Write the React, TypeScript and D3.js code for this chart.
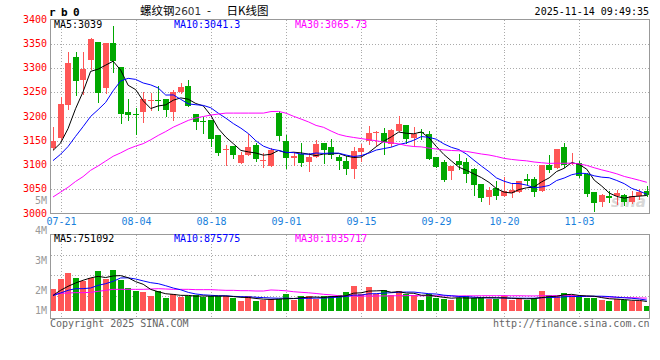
import React from "react";
import * as d3 from "d3";

const dates = [
  "07-18","07-21","07-22","07-23","07-24","07-25","07-28","07-29","07-30","07-31","08-01",
  "08-04","08-05","08-06","08-07","08-08","08-11","08-12","08-13","08-14","08-15",
  "08-18","08-19","08-20","08-21","08-22","08-25","08-26","08-27","08-28","08-29",
  "09-01","09-02","09-03","09-04","09-05","09-08","09-09","09-10","09-11","09-12",
  "09-15","09-16","09-17","09-18","09-19","09-22","09-23","09-24","09-25","09-26",
  "09-29","09-30","10-09","10-10","10-13","10-14","10-15","10-16","10-17",
  "10-20","10-21","10-22","10-23","10-24","10-27","10-28","10-29","10-30","10-31",
  "11-03","11-04","11-05","11-06","11-07","11-10","11-11","11-12","11-13","11-14",
];

const opens = [
  3135,3156,3223,3322,3276,3317,3354,3258,3352,3303,3210,
  3206,3209,3233,3235,3236,3210,3250,3262,3205,3191,
  3192,3161,3130,3140,3104,3120,3142,3108,3098,3207,
  3150,3115,3123,3106,3116,3146,3138,3116,3109,3091,
  3126,3149,3167,3166,3144,3171,3183,3156,3168,3164,
  3116,3106,3087,3109,3107,3091,3060,3034,3052,
  3037,3043,3045,3071,3071,3047,3099,3093,3138,3102,
  3104,3082,3044,3023,3036,3036,3039,3023,3036,3047,
];
const highs = [
  3178,3241,3334,3332,3332,3361,3354,3352,3387,3303,3237,
  3218,3250,3248,3263,3236,3254,3270,3276,3205,3200,
  3192,3161,3142,3140,3126,3163,3146,3124,3135,3211,
  3161,3126,3146,3124,3152,3146,3153,3121,3118,3137,
  3144,3181,3171,3177,3175,3202,3183,3179,3175,3171,
  3116,3111,3098,3123,3114,3093,3061,3054,3068,
  3076,3061,3068,3082,3076,3099,3120,3134,3145,3125,
  3108,3084,3044,3041,3046,3049,3041,3047,3051,3056,
];
const lows = [
  3133,3154,3216,3245,3247,3298,3229,3248,3291,3186,3193,
  3164,3188,3214,3214,3202,3192,3248,3221,3175,3166,
  3140,3120,3101,3114,3104,3120,3109,3095,3098,3152,
  3093,3099,3098,3087,3116,3104,3115,3091,3082,3074,
  3108,3144,3142,3122,3140,3170,3145,3140,3154,3113,
  3095,3066,3071,3091,3064,3038,3025,3019,3030,
  3037,3034,3045,3060,3036,3046,3085,3093,3095,3102,
  3075,3036,3006,3016,3023,3020,3018,3021,3030,3037,
];
const closes = [
  3149,3225,3310,3274,3297,3359,3248,3351,3315,3205,3203,
  3203,3236,3235,3232,3214,3251,3260,3221,3188,3189,
  3153,3124,3133,3120,3120,3138,3112,3111,3130,3159,
  3114,3118,3104,3117,3144,3130,3120,3108,3091,3128,
  3135,3166,3169,3147,3173,3185,3153,3164,3166,3113,
  3095,3070,3098,3101,3081,3058,3032,3049,3036,
  3046,3048,3068,3067,3044,3099,3089,3134,3100,3104,
  3078,3041,3021,3039,3032,3043,3023,3037,3044,3039,
];
const volumes = [
  1742000,2547000,3056000,2627000,2386000,2681000,3190000,2574000,3271000,2520000,1823000,
  1609000,1528000,1206000,1582000,1019000,1341000,1153000,1180000,1260000,1126000,
  1233000,1206000,1180000,1072000,804000,1180000,804000,912000,938000,938000,
  1341000,885000,1206000,1206000,965000,1206000,1206000,1260000,1528000,1984000,
  1341000,1904000,1341000,1662000,1287000,1582000,1341000,1260000,858000,1341000,
  1072000,965000,912000,1072000,1180000,1072000,1072000,965000,992000,
  1180000,912000,965000,858000,1072000,1582000,1260000,1180000,1421000,1260000,
  1126000,1072000,1072000,858000,804000,992000,858000,804000,804000,375000,
];

// moving-average values before enough history is on screen
const priceMa5Head = [3130,3145,3175,3216];
const priceMa10Head = [3109,3122,3138,3159,3179,3200,3214,3229,3253];
const priceMa30Head = [
  3034,3044,3054,3066,3076,3089,3098,3108,3118,3125,
  3133,3139,3144,3152,3161,3169,3178,3185,3192,3197,
  3200,3203,3205,3207,3207,3207,3207,3207,3207,
];
const volMa5Head = [1260000,1662000,1984000,2252000];
const volMa10Head = [1233000,1448000,1662000,1796000,1796000,1850000,2064000,2198000,2386000];
const volMa30Head = [
  1341000,1421000,1448000,1475000,1475000,1501000,1582000,1662000,1743000,1743000,
  1743000,1743000,1743000,1769000,1796000,1769000,1743000,1743000,1743000,1716000,
  1716000,1716000,1689000,1662000,1662000,1635000,1635000,1609000,1609000,
];

const priceMaText = ["MA5:3039", "MA10:3041.3", "MA30:3065.73"];
const volMaText = ["MA5:751092", "MA10:875775", "MA30:1035717"];
const priceTicks = [3000, 3050, 3100, 3150, 3200, 3250, 3300, 3350, 3400];
const volTickValues = [1, 2, 3, 4, 5];
const volTickLabels = ["1M", "2M", "3M", "4M", "5M"];
const dateTicks = ["07-21", "08-04", "08-18", "09-01", "09-15", "09-29", "10-20", "11-03"];

const RED = "#ff5656";
const GREEN = "#00a800";
const MA_COLORS = ["#000000", "#0000ff", "#ff00ff"];
const MONO = "'DejaVu Sans Mono', monospace";

function movingAverage(values: number[], n: number, head: number[]) {
  return values.map((_, i) =>
    i < n - 1 ? head[i] : (d3.mean(values.slice(i - n + 1, i + 1)) as number)
  );
}

export default function App() {
  const W = 660, H = 360;
  const L = 50.5, R = 649.5, T1 = 19.5, B1 = 213.5, T2 = 234.5, B2 = 318.5;

  const x = d3.scaleBand<string>().domain(dates).range([49.24, 650.6]).paddingInner(0.2).paddingOuter(0.1);
  const bw = Math.round(x.bandwidth());
  const cx = (d: string) => (x(d) as number) + x.bandwidth() / 2;
  const y = d3.scaleLinear().domain([3000, 3400]).range([B1, T1]);
  const vBase = 311;
  const vy = d3.scaleLinear().domain([0, 1e6]).range([vBase, vBase - 12.43]);
  const volLabelY = d3.scaleLinear().domain([2, 5]).range([294, 204]);

  const pMa = [
    movingAverage(closes, 5, priceMa5Head),
    movingAverage(closes, 10, priceMa10Head),
    movingAverage(closes, 30, priceMa30Head),
  ];
  const vMa = [
    movingAverage(volumes, 5, volMa5Head),
    movingAverage(volumes, 10, volMa10Head),
    movingAverage(volumes, 30, volMa30Head),
  ];
  const pLine = d3.line<number>().x((_, i) => cx(dates[i])).y((v) => y(v));
  const vLine = d3.line<number>().x((_, i) => cx(dates[i])).y((v) => vy(v));

  const gridX = dateTicks.map((d) => Math.round(cx(d)) + 0.5);
  const textX = [54, 174, 295];

  return (
    <svg width={W} height={H} style={{ position: "absolute", left: 0, top: 0, background: "#fff" }}
      fontFamily={MONO} fontSize={10}>
      <defs>
        <clipPath id="clipP"><rect x={L} y={T1} width={R - L} height={B1 - T1} /></clipPath>
        <clipPath id="clipV"><rect x={L} y={T2} width={R - L} height={B2 - T2} /></clipPath>
      </defs>
      <rect x={0} y={0} width={W} height={H} fill="#fff" />

      {/* price grid */}
      <g stroke="#aaa" strokeDasharray="1,2" shapeRendering="crispEdges">
        {priceTicks.slice(1, -1).map((t) => (
          <line key={t} x1={L} x2={R} y1={Math.round(y(t)) + 0.5} y2={Math.round(y(t)) + 0.5} />
        ))}
        {gridX.map((gx, i) => (
          <line key={"gx" + i} x1={gx} x2={gx} y1={T1} y2={B1} />
        ))}
        {[1, 2, 3].map((k) => (
          <line key={"vg" + k} x1={L} x2={R} y1={Math.round(T2 + k * 20.4) + 0.5} y2={Math.round(T2 + k * 20.4) + 0.5} />
        ))}
        {gridX.map((gx, i) => (
          <line key={"vx" + i} x1={gx} x2={gx} y1={T2} y2={B2} />
        ))}
      </g>

      {/* watermark */}
      <text x={611} y={207} fontFamily="'DejaVu Sans', sans-serif" fontStyle="italic" fontWeight="bold"
        fontSize={15} fill="#c8c8c8" opacity={0.7}>sina</text>

      {/* candles */}
      <g clipPath="url(#clipP)" shapeRendering="crispEdges">
        {dates.map((d, i) => {
          const o = opens[i], c = closes[i];
          const up = c >= o;
          const col = up ? RED : GREEN;
          const rx = Math.round(x(d) as number);
          const top = Math.round(y(Math.max(o, c)));
          const bot = Math.round(y(Math.min(o, c)));
          const hi = Math.round(y(highs[i]));
          const lo = Math.round(y(lows[i]));
          return (
            <g key={d} fill={col}>
              <rect x={rx + Math.floor(bw / 2)} y={hi} width={1} height={Math.max(1, lo - hi + 1)} />
              <rect x={rx} y={top} width={bw} height={Math.max(1, bot - top)} />
            </g>
          );
        })}
      </g>

      {/* price MAs */}
      <g clipPath="url(#clipP)" fill="none" strokeWidth={1}>
        {pMa.map((arr, k) => (
          <path key={k} d={pLine(arr) as string} stroke={MA_COLORS[k]} />
        ))}
      </g>

      {/* volume bars */}
      <g clipPath="url(#clipV)" shapeRendering="crispEdges">
        {dates.map((d, i) => {
          const up = closes[i] >= opens[i];
          const rx = Math.round(x(d) as number);
          const top = Math.round(vy(volumes[i]));
          return <rect key={d} x={rx} y={top} width={bw} height={vBase - top} fill={up ? RED : GREEN} />;
        })}
      </g>
      <g clipPath="url(#clipV)" fill="none" strokeWidth={1}>
        {[2, 1, 0].map((k) => (
          <path key={k} d={vLine(vMa[k]) as string} stroke={MA_COLORS[k]} />
        ))}
      </g>

      {/* frames */}
      <g fill="none" stroke="#999" shapeRendering="crispEdges">
        <rect x={L} y={T1} width={R - L} height={B1 - T1} />
        <rect x={L} y={T2} width={R - L} height={B2 - T2} />
      </g>

      {/* price axis labels */}
      <g textAnchor="end" fill="#ff0000">
        {priceTicks.map((t) => (
          <text key={t} x={47} y={Math.round(y(t)) + 2.5}>{t}</text>
        ))}
      </g>
      {/* volume axis labels */}
      <g textAnchor="end" fill="#999">
        {volTickValues.map((v, i) => (
          <text key={v} x={47} y={Math.min(volLabelY(v), 314)}>{volTickLabels[i]}</text>
        ))}
      </g>
      {/* date labels */}
      <g textAnchor="middle" fill="#1a7fdc">
        {dateTicks.map((d, i) => (
          <text key={d} x={gridX[i]} y={225}>{d}</text>
        ))}
      </g>

      {/* MA headers */}
      {priceMaText.map((t, k) => (
        <text key={t} x={textX[k]} y={28} fill={MA_COLORS[k]}>{t}</text>
      ))}
      {volMaText.map((t, k) => (
        <text key={t} x={textX[k]} y={242} fill={MA_COLORS[k]}>{t}</text>
      ))}

      {/* title row */}
      <text x={49} y={16} fontWeight="bold" fontSize={11} letterSpacing={-0.6} style={{ whiteSpace: "pre" }}>r b 0</text>
      <text y={14.5} fontSize={11.5} fontFamily="'Noto Sans CJK SC', sans-serif" fill="#000">
        <tspan x={140}>螺纹钢</tspan>
        <tspan fill="#333" fontFamily="'DejaVu Sans', sans-serif" fontSize={10.5}>2601</tspan>
        <tspan x={207}>-</tspan>
        <tspan x={226.5}>日K线图</tspan>
      </text>
      <text x={649} y={15} textAnchor="end" fill="#000">2025-11-14 09:49:35</text>

      {/* footer */}
      <text x={50} y={326.5} fill="#666">Copyright 2025 SINA.COM</text>
      <text x={649.5} y={326.5} textAnchor="end" fill="#666">http://finance.sina.com.cn</text>
    </svg>
  );
}
